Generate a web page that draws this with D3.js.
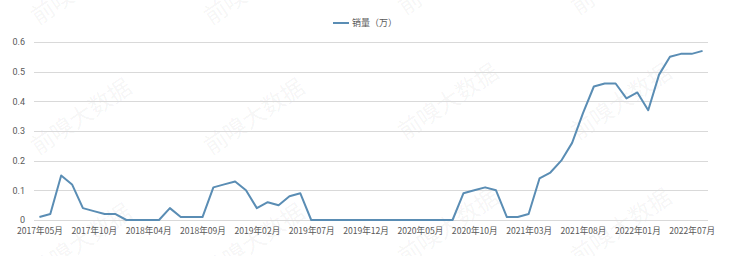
<!DOCTYPE html>
<html>
<head>
<meta charset="utf-8">
<script src="https://cdn.jsdelivr.net/npm/d3@7"></script>
<style>
  body { margin: 0; background: #fff; }
  svg { display: block; }
  text { font-family: "Noto Sans CJK SC", "Noto Sans", sans-serif; }
</style>
</head>
<body>
<svg id="chart" width="735" height="256"></svg>
<script>
var width = 735;
var height = 256;

// months (2018-01 and 2022-02 are not in the source series)
var months = [
  "2017年05月","2017年06月","2017年07月","2017年08月","2017年09月","2017年10月","2017年11月","2017年12月",
  "2018年02月","2018年03月","2018年04月","2018年05月","2018年06月","2018年07月","2018年08月","2018年09月",
  "2018年10月","2018年11月","2018年12月","2019年01月","2019年02月","2019年03月","2019年04月","2019年05月",
  "2019年06月","2019年07月","2019年08月","2019年09月","2019年10月","2019年11月","2019年12月","2020年01月",
  "2020年02月","2020年03月","2020年04月","2020年05月","2020年06月","2020年07月","2020年08月","2020年09月",
  "2020年10月","2020年11月","2020年12月","2021年01月","2021年02月","2021年03月","2021年04月","2021年05月",
  "2021年06月","2021年07月","2021年08月","2021年09月","2021年10月","2021年11月","2021年12月","2022年01月",
  "2022年03月","2022年04月","2022年05月","2022年06月","2022年07月","2022年08月"
];
var sales = [
  0.01,0.02,0.15,0.12,0.04,0.03,0.02,0.02,
  0,0,0,0,0.04,0.01,0.01,0.01,
  0.11,0.12,0.13,0.10,0.04,0.06,0.05,0.08,
  0.09,0,0,0,0,0,0,0,
  0,0,0,0,0,0,0,0.09,
  0.10,0.11,0.10,0.01,0.01,0.02,0.14,0.16,
  0.20,0.26,0.36,0.45,0.46,0.46,0.41,0.43,
  0.37,0.49,0.55,0.56,0.56,0.57
];
var yTicks = [0, 0.1, 0.2, 0.3, 0.4, 0.5, 0.6];
var seriesName = "销量（万）";
var watermark = "前嗅大数据";

var margin = {left: 34, right: 27, top: 42, bottom: 36};
var lineColor = "#5a8db4";
var svg = d3.select("#chart");

// faint watermark grid behind everything (right half sits a bit higher)
var wmSpots = [];
[80, 253].forEach(function (wx) {
  [-15, 115, 240].forEach(function (wy) { wmSpots.push([wx, wy]); });
});
[447, 620].forEach(function (wx) {
  [-25, 100, 225].forEach(function (wy) { wmSpots.push([wx, wy]); });
});
svg.append("g").selectAll("text").data(wmSpots).enter().append("text")
  .attr("transform", function (d) { return "translate(" + d[0] + "," + d[1] + ") rotate(-34)"; })
  .attr("text-anchor", "middle")
  .attr("dominant-baseline", "central")
  .style("font-size", "23px")
  .style("fill", "#000")
  .style("fill-opacity", 0.05)
  .text(watermark);

var x = d3.scalePoint()
  .domain(months)
  .range([margin.left, width - margin.right])
  .padding(0.5);
var y = d3.scaleLinear()
  .domain([0, 0.6])
  .range([height - margin.bottom, margin.top]);

// gridlines
svg.append("g").selectAll("line").data(yTicks).enter().append("line")
  .attr("x1", margin.left)
  .attr("x2", width - margin.right)
  .attr("y1", function (d) { return Math.round(y(d)) + 0.5; })
  .attr("y2", function (d) { return Math.round(y(d)) + 0.5; })
  .style("stroke", "#d9d9d9")
  .style("stroke-width", 1);

// y labels
var yAxis = d3.axisLeft(y).tickValues(yTicks).tickSize(0).tickPadding(9)
  .tickFormat(function (d) { return d === 0 ? "0" : d3.format(".1f")(d); });
var gy = svg.append("g").attr("transform", "translate(" + margin.left + ",0)").call(yAxis);
gy.select(".domain").remove();
gy.selectAll("text").style("font-size", "9px").style("fill", "#595959").style("font-family", "Roboto, sans-serif");

// x labels every 5th category
var xAxis = d3.axisBottom(x).tickSize(0).tickPadding(8)
  .tickValues(months.filter(function (d, i) { return i % 5 === 0; }));
var gx = svg.append("g").attr("transform", "translate(0," + (height - margin.bottom) + ")").call(xAxis);
gx.select(".domain").remove();
gx.selectAll("text").style("font-size", "8.6px").style("fill", "#595959");

// series line
var line = d3.line()
  .x(function (d, i) { return x(months[i]); })
  .y(function (d) { return y(d); });
svg.append("path")
  .datum(sales)
  .attr("d", line)
  .style("fill", "none")
  .style("stroke", lineColor)
  .style("stroke-width", 2)
  .style("stroke-linejoin", "round");

// legend
var legend = svg.append("g").attr("transform", "translate(333,23)");
legend.append("line")
  .attr("x1", 0).attr("x2", 16)
  .style("stroke", lineColor)
  .style("stroke-width", 2);
legend.append("text")
  .attr("x", 19)
  .attr("dy", "0.35em")
  .style("font-size", "9px")
  .style("fill", "#595959")
  .text(seriesName);
</script>
</body>
</html>
